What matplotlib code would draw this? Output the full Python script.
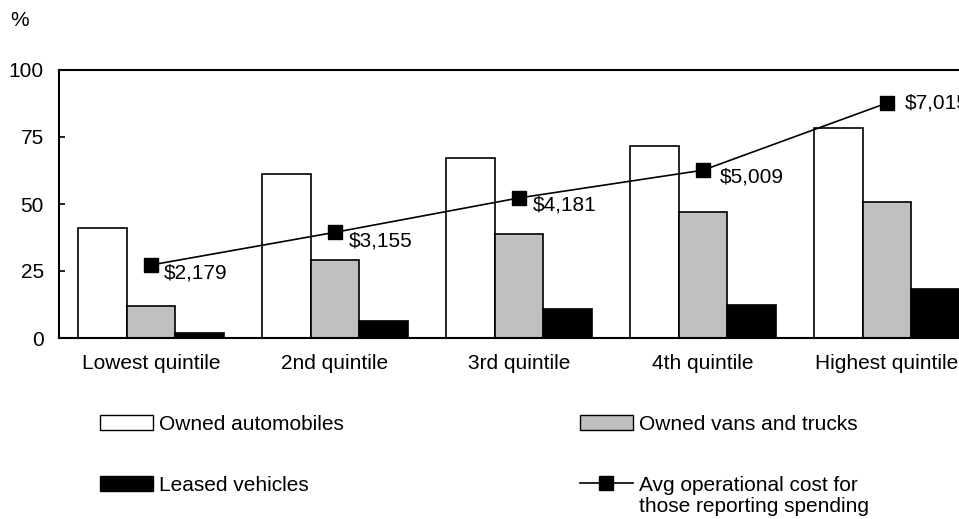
import matplotlib
matplotlib.use("Agg")
import matplotlib.pyplot as plt
import numpy as np

plt.rcParams['font.family'] = ['Liberation Sans', 'DejaVu Sans']

# data
quintiles = ['Lowest quintile', '2nd quintile', '3rd quintile', '4th quintile', 'Highest quintile']
owned_autos = [41.2, 61.2, 67.3, 71.6, 78.2]
owned_vans = [12.0, 29.1, 38.8, 47.0, 50.6]
leased = [1.7, 6.3, 10.8, 12.2, 18.3]
avg_cost = [2179, 3155, 4181, 5009, 7015]
cost_labels = ['$2,179', '$3,155', '$4,181', '$5,009', '$7,015']

fs = 15
fig = plt.figure(figsize=(9.59, 5.19), dpi=100)
ax = fig.add_axes([59 / 959, 181 / 519, 920 / 959, 268 / 519])

x = np.arange(len(quintiles))
w = 0.266
b1 = ax.bar(x - w, owned_autos, w, color='white', edgecolor='black', linewidth=1.2, label='Owned automobiles')
b2 = ax.bar(x, owned_vans, w, color='#c0c0c0', edgecolor='black', linewidth=1.2, label='Owned vans and trucks')
b3 = ax.bar(x + w, leased, w, color='black', edgecolor='black', linewidth=1.2, label='Leased vehicles')

ax.set_xlim(-0.5, 4.5)
ax.set_ylim(0, 100)
ax.set_yticks([0, 25, 50, 75, 100])
ax.set_xticks(x)
ax.set_xticklabels(quintiles, fontsize=fs)
ax.tick_params(axis='y', direction='in', length=4.5, width=1.2, labelsize=fs, pad=11)
ax.tick_params(axis='x', length=0, pad=11.5)
for s in ['left', 'bottom', 'top']:
    ax.spines[s].set_linewidth(1.5)
ax.spines['right'].set_visible(False)

# cost line sits on a hidden 0-8000 scale
ax2 = ax.twinx()
ax2.set_ylim(0, 8000)
ax2.set_xlim(-0.5, 4.5)
ax2.axis('off')
ln, = ax2.plot(x, avg_cost, color='black', linewidth=1.2, marker='s', markersize=9.5,
               label='Avg operational cost for')
offsets = [(9, -6), (10, -6), (10, -5), (12, -5), (13, 0)]
for xi, c, lab, off in zip(x, avg_cost, cost_labels, offsets):
    ax2.annotate(lab, (xi, c), xytext=off, textcoords='offset points',
                 ha='left', va='center', fontsize=fs)

fig.text(10 / 959, 1 - 21 / 519, '%', fontsize=fs, va='center', ha='left')

leg = fig.legend([b1, b3, b2, ln],
                 ['Owned automobiles', 'Leased vehicles', 'Owned vans and trucks', 'Avg operational cost for'],
                 ncol=2, loc='upper left', bbox_to_anchor=(100 / 959, 1 - 415 / 519),
                 frameon=False, fontsize=fs, borderpad=0, borderaxespad=0,
                 handlelength=2.55, handleheight=0.7, handletextpad=0.3,
                 columnspacing=11.3, labelspacing=2.0)
for h in leg.legend_handles[:3]:
    h.set_linewidth(1.0)
last = leg.get_texts()[-1]
fig.canvas.draw()
ax.annotate('those reporting spending', xy=(0, 0), xycoords=last,
            xytext=(0, -1.5), textcoords='offset points', va='top', ha='left',
            fontsize=fs, annotation_clip=False)

fig.savefig('out.png', dpi=100)
